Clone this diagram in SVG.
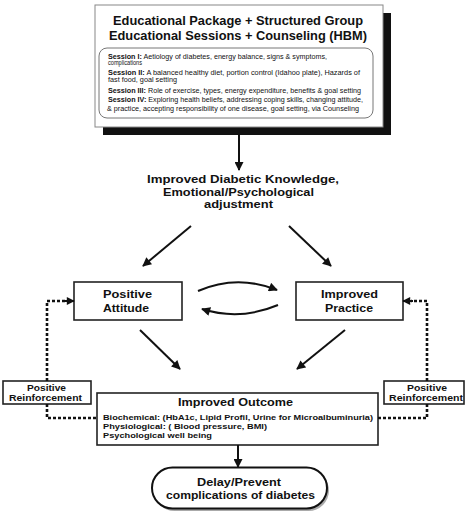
<svg xmlns="http://www.w3.org/2000/svg" width="474" height="514" viewBox="0 0 474 514">
<defs>
<marker id="ah" viewBox="0 0 10 10" refX="9" refY="5" markerWidth="10" markerHeight="9" markerUnits="userSpaceOnUse" orient="auto">
<path d="M0,0 L10,5 L0,10 z" fill="#111"/>
</marker>
<marker id="ahs" viewBox="0 0 10 10" refX="9" refY="5" markerWidth="9" markerHeight="8" markerUnits="userSpaceOnUse" orient="auto">
<path d="M0,0 L10,5 L0,10 z" fill="#111"/>
</marker>
</defs>
<style>
text{font-family:"Liberation Sans",Arial,sans-serif;fill:#111}
.b{font-weight:bold}
.t{font-size:12px;font-weight:bold;text-anchor:middle}
.k{font-size:10.8px;font-weight:bold;text-anchor:middle}
.s{font-size:6.3px}
.n{font-size:11px;font-weight:bold;text-anchor:middle}
.r{font-size:8.5px;font-weight:bold;text-anchor:middle}
.o{font-size:6.8px;font-weight:bold}
.box{fill:#fff;stroke:#222;stroke-width:1.6}
.ln{stroke:#111;stroke-width:2;fill:none}
.dot{stroke:#111;stroke-width:2.6;fill:none;stroke-dasharray:3 2}
</style>
<rect width="474" height="514" fill="#fff"/>
<g id="package">
<rect x="103" y="13" width="288" height="122" fill="#111"/>
<rect x="95" y="5" width="288" height="122" fill="#fff" stroke="#888" stroke-width="1"/>
<text class="t" x="238" y="25" textLength="250" lengthAdjust="spacingAndGlyphs">Educational Package + Structured Group</text>
<text class="t" x="238" y="39.5" textLength="258" lengthAdjust="spacingAndGlyphs">Educational Sessions + Counseling (HBM)</text>
<rect x="99" y="48" width="274" height="70" rx="8" fill="none" stroke="#777" stroke-width="1"/>
<text class="s" x="108" y="59" textLength="219" lengthAdjust="spacingAndGlyphs"><tspan class="b">Session I:</tspan> Aetiology of diabetes, energy balance, signs &amp; symptoms,</text>
<text class="s" x="108" y="65" textLength="34" lengthAdjust="spacingAndGlyphs">complications</text>
<text class="s" x="108" y="75" textLength="252" lengthAdjust="spacingAndGlyphs"><tspan class="b">Session II:</tspan> A balanced healthy diet, portion control (Idahoo plate), Hazards of</text>
<text class="s" x="108" y="82" textLength="69" lengthAdjust="spacingAndGlyphs">fast food, goal setting</text>
<text class="s" x="108" y="93" textLength="253" lengthAdjust="spacingAndGlyphs"><tspan class="b">Session III:</tspan> Role of exercise, types, energy expenditure, benefits &amp; goal setting</text>
<text class="s" x="108" y="102" textLength="255" lengthAdjust="spacingAndGlyphs"><tspan class="b">Session IV:</tspan> Exploring health beliefs, addressing coping skills, changing attitude,</text>
<text class="s" x="107" y="111" textLength="252" lengthAdjust="spacingAndGlyphs">&amp; practice, accepting responsibility of one disease, goal setting, via Counseling</text>
</g>
<g id="knowledge">
<text class="k" x="243" y="183" textLength="192" lengthAdjust="spacingAndGlyphs">Improved Diabetic Knowledge,</text>
<text class="k" x="238.5" y="195.7" textLength="151" lengthAdjust="spacingAndGlyphs">Emotional/Psychological</text>
<text class="k" x="238.5" y="208.4" textLength="69" lengthAdjust="spacingAndGlyphs">adjustment</text>
</g>
<g id="attitude">
<rect class="box" x="74" y="282" width="108" height="38"/>
<text class="n" x="127.5" y="298" textLength="49" lengthAdjust="spacingAndGlyphs">Positive</text>
<text class="n" x="126" y="311.5" textLength="46" lengthAdjust="spacingAndGlyphs">Attitude</text>
</g>
<g id="practice">
<rect class="box" x="296" y="282" width="107" height="38"/>
<text class="n" x="349.5" y="298" textLength="57" lengthAdjust="spacingAndGlyphs">Improved</text>
<text class="n" x="349" y="311.5" textLength="48" lengthAdjust="spacingAndGlyphs">Practice</text>
</g>
<g id="reinf-left">
<rect class="box" x="3" y="381" width="88" height="23"/>
<text class="r" x="46.5" y="390.5" textLength="39" lengthAdjust="spacingAndGlyphs">Positive</text>
<text class="r" x="45.5" y="401" textLength="73" lengthAdjust="spacingAndGlyphs">Reinforcement</text>
</g>
<g id="reinf-right">
<rect class="box" x="384" y="381" width="80" height="23"/>
<text class="r" x="427" y="390.5" textLength="40" lengthAdjust="spacingAndGlyphs">Positive</text>
<text class="r" x="426" y="401" textLength="74" lengthAdjust="spacingAndGlyphs">Reinforcement</text>
</g>
<g id="outcome">
<rect class="box" x="97" y="393" width="281" height="52"/>
<text x="235.5" y="406" textLength="115" lengthAdjust="spacingAndGlyphs" style="font-size:11px;font-weight:bold;text-anchor:middle">Improved Outcome</text>
<text class="o" x="103" y="420" textLength="270" lengthAdjust="spacingAndGlyphs">Biochemical: (HbA1c, Lipid Profil, Urine for Microalbuminuria)</text>
<text class="o" x="103" y="429" textLength="164" lengthAdjust="spacingAndGlyphs">Physiological: ( Blood pressure, BMI)</text>
<text class="o" x="103" y="438" textLength="109" lengthAdjust="spacingAndGlyphs">Psychological well being</text>
</g>
<g id="delay">
<rect x="154" y="470" width="175" height="41" rx="20.5" fill="#aaa"/>
<rect x="152" y="467.5" width="175" height="41" rx="20.5" fill="#fff" stroke="#111" stroke-width="2"/>
<text class="t" x="239" y="486" textLength="84" lengthAdjust="spacingAndGlyphs" style="font-size:10.5px">Delay/Prevent</text>
<text class="t" x="240.5" y="499" textLength="149" lengthAdjust="spacingAndGlyphs" style="font-size:10.5px">complications of diabetes</text>
</g>
<g id="connectors">
<line class="ln" x1="239" y1="135" x2="239" y2="170" marker-end="url(#ah)"/>
<line class="ln" x1="191" y1="226" x2="143" y2="266" marker-end="url(#ah)"/>
<line class="ln" x1="289" y1="226" x2="331" y2="266" marker-end="url(#ah)"/>
<path class="ln" d="M198,291 Q237,274 277,290" marker-end="url(#ah)"/>
<path class="ln" d="M278,305 Q240,321 202,309" marker-end="url(#ah)"/>
<line class="ln" x1="140" y1="330" x2="180" y2="369" marker-end="url(#ah)"/>
<line class="ln" x1="345" y1="330" x2="297" y2="369" marker-end="url(#ah)"/>
<line class="ln" x1="238" y1="445" x2="238" y2="467" marker-end="url(#ah)"/>
<path class="dot" d="M47,381 L47,301 L66,301"/>
<line class="ln" x1="64" y1="301" x2="74" y2="301" marker-end="url(#ahs)"/>
<path class="dot" d="M47,404 L47,418 L97,418"/>
<path class="dot" d="M427,381 L427,301 L411,301"/>
<line class="ln" x1="413" y1="301" x2="403" y2="301" marker-end="url(#ahs)"/>
<path class="dot" d="M427,404 L427,418 L378,418"/>
</g>
</svg>
